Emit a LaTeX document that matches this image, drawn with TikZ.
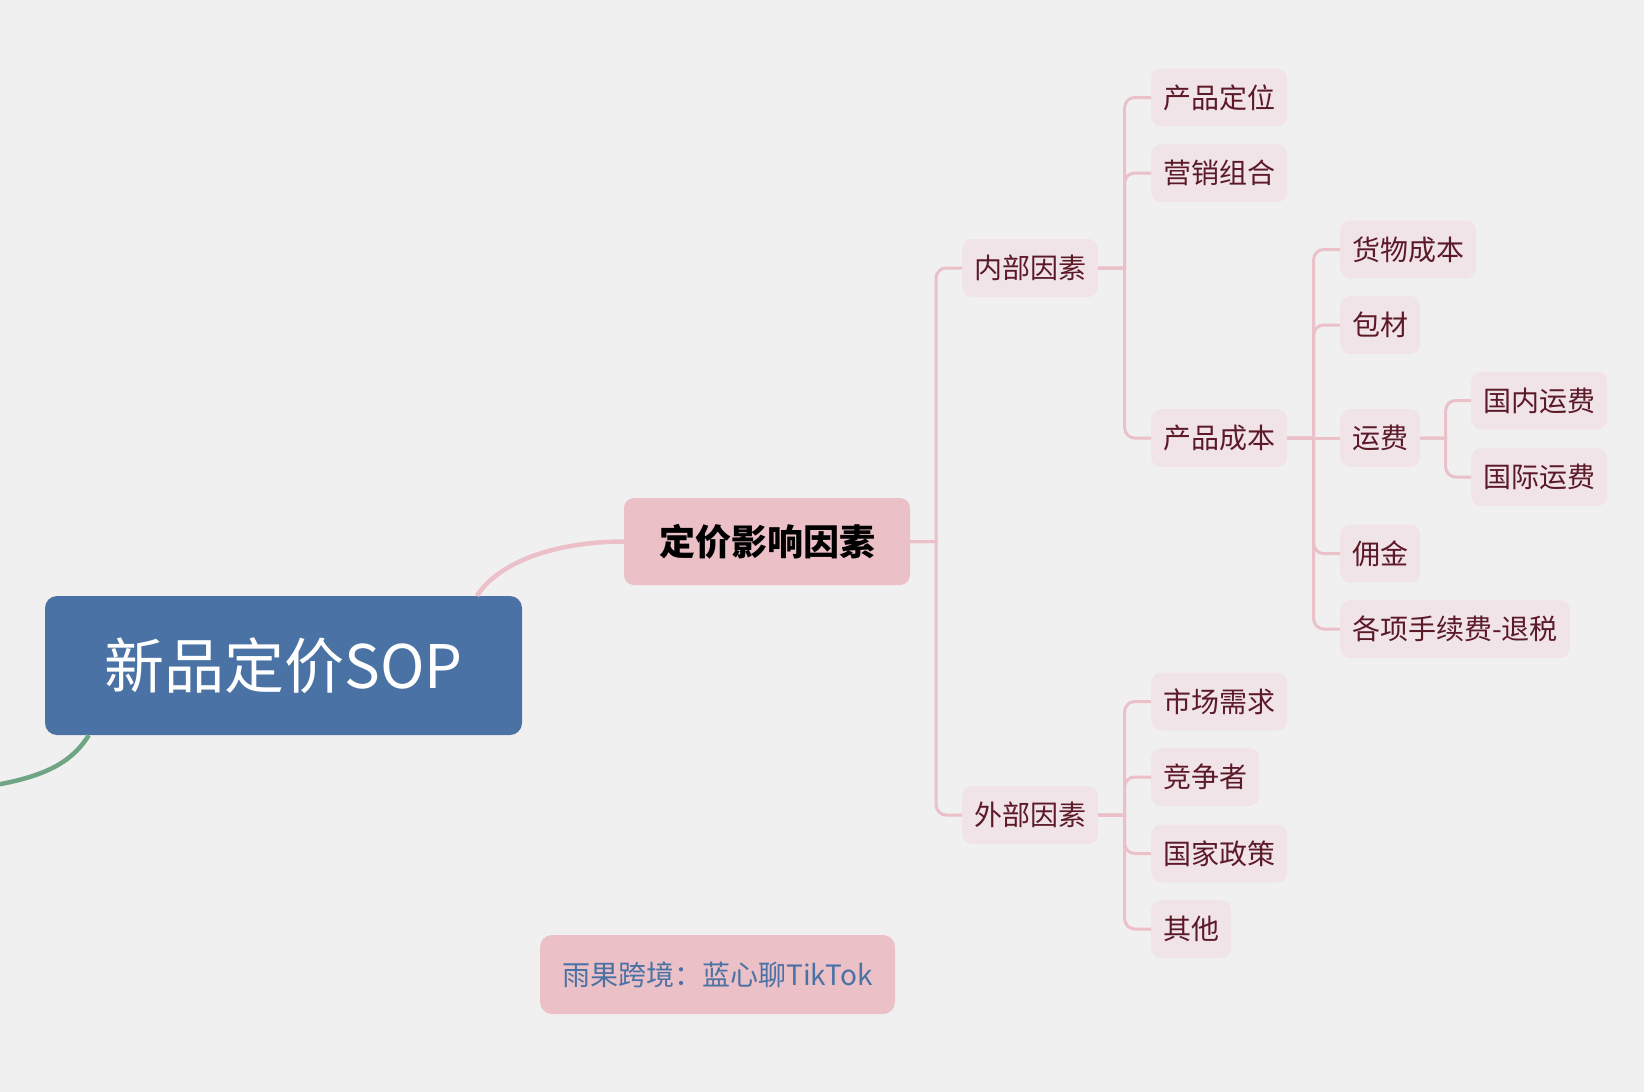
\documentclass[tikz,border=0pt]{standalone}
\usepackage{fontspec}
\newfontfamily\cjk{Noto Sans CJK SC}
\usetikzlibrary{calc}
\definecolor{bg}{HTML}{F0F0F0}
\definecolor{rootblue}{HTML}{4A72A4}
\definecolor{mainpink}{HTML}{EBC0C7}
\definecolor{leafpink}{HTML}{F0E4E8}
\definecolor{leaftext}{HTML}{5C1A28}
\definecolor{linepink}{HTML}{EBC0C8}
\definecolor{linegreen}{HTML}{6FA585}
\begin{document}
\begin{tikzpicture}[x=1pt,y=-1pt,
  leaf/.style={shape=rectangle,rounded corners=10pt,fill=leafpink,text=leaftext,
    font=\cjk\fontsize{28}{34}\selectfont,inner xsep=12pt,inner ysep=0pt,minimum height=58pt,anchor=west},
  elbow/.style={draw=linepink,line width=3pt,
    to path={(\tikztostart) -| ($(\tikztostart)!0.5!(\tikztotarget)$) [rounded corners=10pt] |- (\tikztotarget)}},
  straight/.style={draw=linepink,line width=3pt}]
  \path[use as bounding box,fill=bg] (0,0) rectangle (1644,1092);

  \node[shape=rectangle,rounded corners=12pt,fill=rootblue,text=white,font=\cjk\fontsize{60}{72}\selectfont,
    minimum width=477pt,minimum height=139pt] (R) at (283.5,665.5) {新品定价SOP};
  \node[shape=rectangle,rounded corners=10pt,fill=mainpink,text=black,font=\cjk\bfseries\fontsize{36}{44}\selectfont,
    minimum width=286pt,minimum height=87pt] (M) at (767,541.5) {定价影响因素};
  \coordinate (G) at (-40,790);

  \node[leaf] (I) at (962,268) {内部因素};
  \node[leaf] (E) at (962,815) {外部因素};

  \node[leaf] (I1) at (1151,97.5) {产品定位};
  \node[leaf] (I2) at (1151,173) {营销组合};
  \node[leaf] (I3) at (1151,438) {产品成本};

  \node[leaf] (C1) at (1340,249.5) {货物成本};
  \node[leaf] (C2) at (1340,325) {包材};
  \node[leaf] (C3) at (1340,438) {运费};
  \node[leaf] (C4) at (1340,553.6) {佣金};
  \node[leaf] (C5) at (1340,629) {各项手续费-退税};

  \node[leaf] (F1) at (1471,400.5) {国内运费};
  \node[leaf] (F2) at (1471,477) {国际运费};

  \node[leaf] (E1) at (1151,701.5) {市场需求};
  \node[leaf] (E2) at (1151,777) {竞争者};
  \node[leaf] (E3) at (1151,853.5) {国家政策};
  \node[leaf] (E4) at (1151,929) {其他};

  \node[shape=rectangle,rounded corners=12pt,fill=mainpink,text=rootblue,font=\cjk\fontsize{28}{34}\selectfont,
    minimum width=355pt,minimum height=79pt] (W) at (717.5,974.5) {雨果跨境：蓝心聊TikTok};

  % root branches
  \draw[linepink,line width=4.5pt] ([xshift=193.5pt]R.north) .. controls (500,560) and (560,541.5) .. (M.west);
  \draw[linegreen,line width=4.5pt] ([xshift=44pt]R.south west) .. controls (70,765) and (40,781) .. (G);

  \path (M.east) edge[elbow] (I.west);
  \path (M.east) edge[elbow] (E.west);

  \path (I.east) edge[elbow] (I1.west);
  \path (I.east) edge[elbow] (I2.west);
  \path (I.east) edge[elbow] (I3.west);

  \path (I3.east) edge[elbow] (C1.west);
  \path (I3.east) edge[elbow] (C2.west);
  \path (I3.east) edge[straight] (C3.west);
  \path (I3.east) edge[elbow] (C4.west);
  \path (I3.east) edge[elbow] (C5.west);

  \path (C3.east) edge[elbow] (F1.west);
  \path (C3.east) edge[elbow] (F2.west);

  \path (E.east) edge[elbow] (E1.west);
  \path (E.east) edge[elbow] (E2.west);
  \path (E.east) edge[elbow] (E3.west);
  \path (E.east) edge[elbow] (E4.west);
\end{tikzpicture}
\end{document}
